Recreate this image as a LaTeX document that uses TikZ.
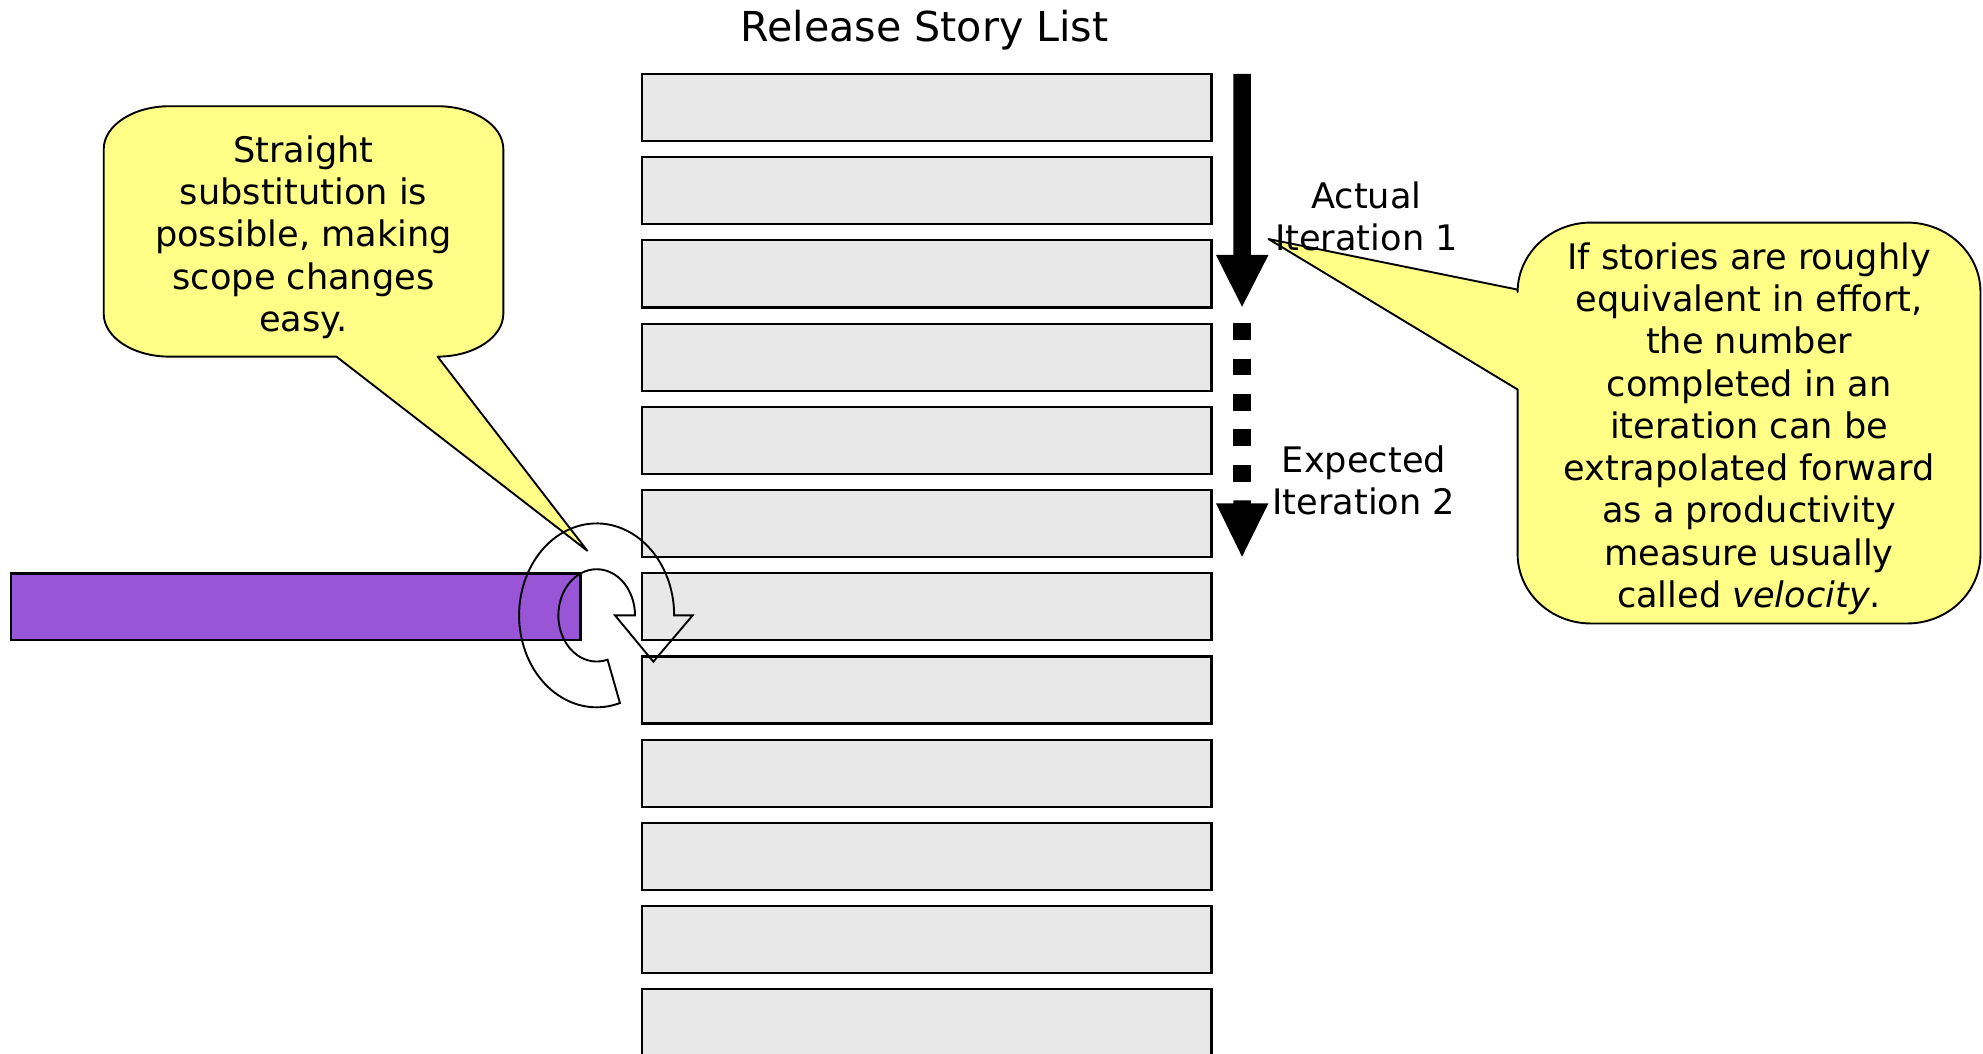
\documentclass[tikz,border=0pt]{standalone}
\usepackage{fontspec}
\setmainfont{DejaVu Sans}
\definecolor{boxgray}{RGB}{232,232,232}
\definecolor{calloutyellow}{RGB}{255,255,136}
\definecolor{barpurple}{RGB}{152,86,214}
\newcommand\calloutfont{\fontsize{13.9pt}{16.7pt}\selectfont}
\newcommand\titlefont{\fontsize{16.3pt}{19.5pt}\selectfont}
\begin{document}
\begin{tikzpicture}[x=0.5pt,y=-0.5pt,
  storybox/.style={draw=black, line width=0.85pt, fill=boxgray, minimum width=225.25pt, minimum height=26.5pt, inner sep=0pt, outer sep=0pt},
  purplebar/.style={draw=black, line width=0.85pt, fill=barpurple, minimum width=225pt, minimum height=26.25pt, inner sep=0pt, outer sep=0pt},
  callout/.style={draw=black, line width=0.75pt, fill=calloutyellow, line join=round},
  bigarrow/.style={fill=black, draw=none},
  turnarrow/.style={draw=black, line width=0.75pt, line join=miter},
  txt/.style={inner sep=0pt, align=center, font=\calloutfont}
]
\useasboundingbox (0,0) rectangle (1568,833);

% title
\node[inner sep=0pt, font=\titlefont] (title) at (731,23.5) {Release Story List};

% story boxes
\foreach \i in {0,...,11} {
  \node[storybox] (s\i) at (732.75,{85+65.8*\i}) {};
}

% purple bar
\node[purplebar] (bar) at (234,479.75) {};

% left callout
\draw[callout] (134,84) -- (346,84)
  arc[start angle=-90, end angle=0, x radius=52, y radius=34] -- (398,248)
  arc[start angle=0, end angle=90, x radius=52, y radius=34]
  -- (464.4,435.5) -- (266,282) -- (134,282)
  arc[start angle=90, end angle=180, x radius=52, y radius=34] -- (82,118)
  arc[start angle=180, end angle=270, x radius=52, y radius=34] -- cycle;
\node[txt] (leftnote) at (240,187.5) {Straight\\substitution is\\possible, making\\scope changes\\easy.};

% right callout
\draw[callout] (1258,176) -- (1508,176)
  arc[start angle=-90, end angle=0, x radius=58, y radius=55] -- (1566,438)
  arc[start angle=0, end angle=90, x radius=58, y radius=55] -- (1258,493)
  arc[start angle=90, end angle=180, x radius=58, y radius=55] -- (1200,308)
  -- (1003,189) -- (1200,229) -- (1200,231)
  arc[start angle=180, end angle=270, x radius=58, y radius=55] -- cycle;
\node[txt] (rightnote) at (1383,339) {If stories are roughly\\equivalent in effort,\\the number\\completed in an\\iteration can be\\extrapolated forward\\as a productivity\\measure usually\\called \textit{velocity}.};

% solid arrow (actual iteration 1)
\fill[bigarrow] (975.2,58.5) -- (989,58.5) -- (989,201.6) -- (1003,201.6) -- (982.1,242.5) -- (961.5,201.6) -- (975.2,201.6) -- cycle;
% dashed arrow (expected iteration 2)
\foreach \d in {0,...,4} {
  \fill[bigarrow] (975.2,{255.6+28.0*\d}) rectangle (989,{268.8+28.0*\d});
}
\fill[bigarrow] (975.2,395.6) -- (989,395.6) -- (989,398) -- (1003,398) -- (982.1,440.2) -- (961.5,398) -- (975.2,398) -- cycle;

\node[txt] (actual) at (1080.5,171) {Actual\\Iteration 1};
\node[txt] (expected) at (1078.5,380) {Expected\\Iteration 2};

% circular substitution arrow
\draw[turnarrow] (490.2,555.9)
  arc[start angle=72.5, end angle=360, x radius=61.3, y radius=72.7]
  -- (547.7,486.6) -- (516.6,523.2) -- (486.3,486.6) -- (502.1,486.6)
  arc[start angle=0, end angle=-286.5, x radius=30.3, y radius=36.5]
  -- cycle;
\end{tikzpicture}
\end{document}
